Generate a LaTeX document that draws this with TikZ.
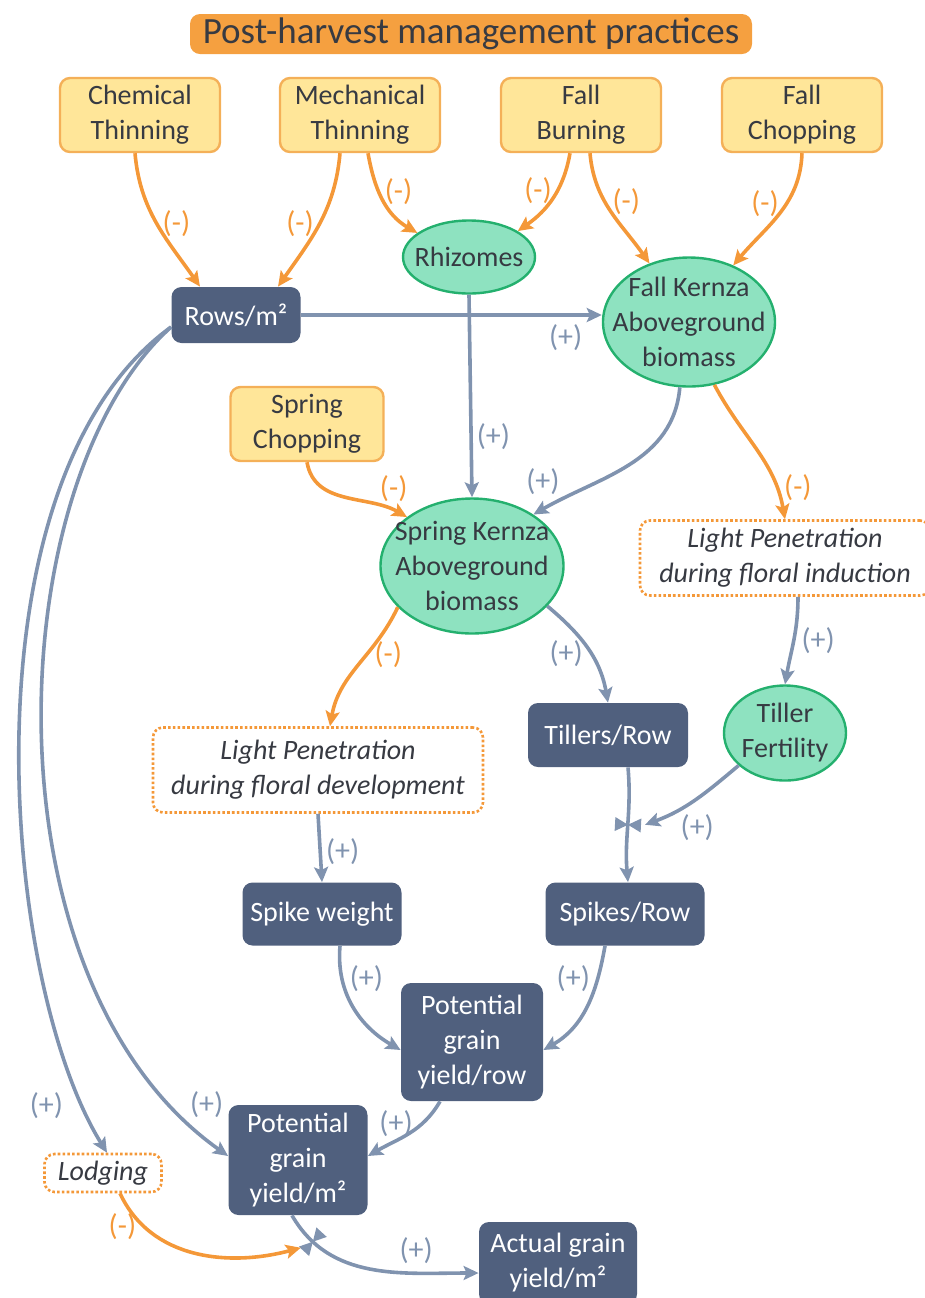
\documentclass[tikz,border=0pt]{standalone}
\usepackage{fontspec}
\setmainfont{Carlito}
\usetikzlibrary{shapes.geometric,arrows.meta}

% ---- Colors ----
\definecolor{inkDark}{RGB}{55,58,66}
\definecolor{titleFill}{RGB}{245,160,64}
\definecolor{practiceFill}{RGB}{255,230,153}
\definecolor{practiceLine}{RGB}{244,176,88}
\definecolor{stateFill}{RGB}{142,226,192}
\definecolor{stateLine}{RGB}{36,176,110}
\definecolor{measureFill}{RGB}{80,96,126}
\definecolor{plusCol}{RGB}{128,147,175}
\definecolor{minusCol}{RGB}{244,152,56}

\tikzset{
	practice/.style={draw=practiceLine, fill=practiceFill, line width=1.2pt, rounded corners=5pt,
		align=center, text=inkDark, inner sep=0pt, minimum width=80pt, minimum height=37pt},
	state/.style={ellipse, draw=stateLine, fill=stateFill, line width=1.2pt,
		align=center, text=inkDark, inner sep=-10pt},
	measure/.style={fill=measureFill, rounded corners=5pt, align=center, text=white, inner sep=0pt},
	light/.style={draw=minusCol, dash pattern=on 1.3pt off 1.1pt, line width=1.3pt, rounded corners=5pt,
		fill=white, align=center, text=inkDark, inner sep=0pt, font=\fontsize{14}{17.5}\selectfont\itshape},
	posarrow/.style={draw=plusCol, line width=1.8pt, -{Stealth[length=7.5pt, width=7pt, inset=1.5pt]}},
	negarrow/.style={draw=minusCol, line width=1.8pt, -{Stealth[length=7.5pt, width=7pt, inset=1.5pt]}},
	poslabel/.style={text=plusCol, inner sep=1pt, font=\fontsize{15}{17}\selectfont},
	neglabel/.style={text=minusCol, inner sep=1pt, font=\fontsize{15}{17}\selectfont},
	interact/.pic={
		\fill[plusCol] (0,0) -- (-3.5pt,6.5pt) -- (3.5pt,6.5pt) -- cycle
			(0,0) -- (-3.5pt,-6.5pt) -- (3.5pt,-6.5pt) -- cycle;
	}
}

\begin{document}
\begin{tikzpicture}[x=0.5pt, y=-0.5pt, font=\fontsize{14}{17.5}\selectfont]
	\useasboundingbox (0,0) rectangle (925,1298);
	
	% ---- Title ----
	\node[fill=titleFill, rounded corners=5pt, text=inkDark, minimum width=281pt, minimum height=20pt,
		inner sep=0pt, font=\fontsize{18.5}{22}\selectfont] (title) at (471,34) {Post-harvest management practices};
	
	% ---- Practices ----
	\node[practice] (chem) at (140,115) {Chemical\\Thinning};
	\node[practice] (mech) at (360,115) {Mechanical\\Thinning};
	\node[practice] (burn) at (581,115) {Fall\\Burning};
	\node[practice] (fchop) at (802,115) {Fall\\Chopping};
	\node[practice, minimum width=76.5pt] (schop) at (307,424) {Spring\\Chopping};
	
	% ---- Plant states ----
	\node[state, minimum width=66pt, minimum height=36.5pt] (rhiz) at (469,257) {Rhizomes};
	\node[state, minimum width=86pt, minimum height=64.5pt] (fallk) at (689,322) {Fall Kernza\\Aboveground\\biomass};
	\node[state, minimum width=91.5pt, minimum height=67.5pt] (springk) at (472,566) {Spring Kernza\\Aboveground\\biomass};
	\node[state, minimum width=61pt, minimum height=47.5pt] (tfert) at (785,733) {Tiller\\Fertility};
	
	% ---- Light and lodging ----
	\node[light, minimum width=145pt, minimum height=37.5pt] (lpind) at (785,558) {Light Penetration\\during floral induction};
	\node[light, minimum width=165pt, minimum height=42.5pt] (lpdev) at (318,770) {Light Penetration\\during floral development};
	\node[light, minimum width=58.5pt, minimum height=19pt] (lodging) at (103,1173) {Lodging};
	
	% ---- Yield components ----
	\node[measure, minimum width=64.5pt, minimum height=28pt] (rows) at (236,315) {Rows/m²};
	\node[measure, minimum width=80pt, minimum height=32pt] (tillers) at (608,735) {Tillers/Row};
	\node[measure, minimum width=79.5pt, minimum height=31.5pt] (spikew) at (322,914) {Spike weight};
	\node[measure, minimum width=79.5pt, minimum height=31.5pt] (spikes) at (625,914) {Spikes/Row};
	\node[measure, minimum width=71pt, minimum height=59pt] (potrow) at (472,1042) {Potential\\grain\\yield/row};
	\node[measure, minimum width=69.5pt, minimum height=55pt] (potm) at (298,1160) {Potential\\grain\\yield/m²};
	\node[measure, minimum width=79pt, minimum height=41pt] (actual) at (558,1263) {Actual grain\\yield/m²};
	
	% ---- Practice effects ----
	\draw[negarrow] ([xshift=-2.5pt]chem.south) to[out=-85, in=125]
		node[neglabel, pos=0.5, right=1pt] {(-)} ([xshift=-18pt]rows.north);
	\draw[negarrow] ([xshift=-10pt]mech.south) to[out=-95, in=55]
		node[neglabel, pos=0.5, left=1pt] {(-)} ([xshift=21pt]rows.north);
	\draw[negarrow] ([xshift=4pt]mech.south) to[out=-80, in=150]
		node[neglabel, pos=0.4, right=1pt] {(-)} (rhiz.155);
	\draw[negarrow] ([xshift=-5.5pt]burn.south) to[out=-100, in=35]
		node[neglabel, pos=0.4, left=1pt] {(-)} (rhiz.28);
	\draw[negarrow] ([xshift=4.5pt]burn.south) to[out=-85, in=125]
		node[neglabel, pos=0.4, right=2pt] {(-)} (fallk.124);
	\draw[negarrow] (fchop.south) to[out=-92, in=50]
		node[neglabel, pos=0.4, left=2pt] {(-)} (fallk.52);
	\draw[negarrow] (schop.south) to[out=-80, in=150]
		node[neglabel, pos=0.75, above right=0pt] {(-)} (springk.143);
	
	% ---- Biomass ----
	\draw[posarrow] (rows.east) -- node[poslabel, pos=0.88, below=3pt] {(+)} (rows.east -| fallk.west);
	\draw[posarrow] (rhiz.south) -- node[poslabel, pos=0.7, right=1pt] {(+)} (springk.north);
	\draw[posarrow] (fallk.262) to[out=-95, in=30]
		node[poslabel, pos=0.85, above left=0pt] {(+)} (springk.40);
	\draw[negarrow] (fallk.292) to[out=-62, in=100]
		node[neglabel, pos=0.8, right=2pt] {(-)} (lpind.north);
	\draw[posarrow] ([xshift=6.5pt]lpind.south) to[out=-90, in=80]
		node[poslabel, pos=0.5, right=2pt] {(+)} (tfert.north);
	\draw[posarrow] (springk.-28) to[out=-40, in=100]
		node[poslabel, pos=0.55, left=2pt] {(+)} (tillers.north);
	\draw[negarrow] (springk.209) to[out=-115, in=80]
		node[neglabel, pos=0.4, right=2pt] {(-)} ([xshift=6pt]lpdev.north);
	
	% ---- Tillers and spikes ----
	\draw[posarrow] ([xshift=10pt]tillers.south) to[out=-85, in=95]
		pic[pos=0.5, sloped] {interact} coordinate[pos=0.5] (bt1) ([xshift=1.5pt]spikes.north);
	\draw[posarrow] (tfert.215) to[out=-140, in=20]
		node[poslabel, pos=0.7, below right=0pt] {(+)} ([xshift=8.5pt]bt1);
	\draw[posarrow] (lpdev.south) -- node[poslabel, pos=0.55, right=1pt] {(+)} (spikew.north);
	
	% ---- Grain yield ----
	\draw[posarrow] ([xshift=9pt]spikew.south) to[out=-95, in=150]
		node[poslabel, pos=0.25, right=2pt] {(+)} ([yshift=-4pt]potrow.west);
	\draw[posarrow] ([xshift=-10pt]spikes.south) to[out=-100, in=30]
		node[poslabel, pos=0.25, left=2pt] {(+)} ([yshift=-4pt]potrow.east);
	\draw[posarrow] ([xshift=-16pt]potrow.south) to[out=-120, in=30]
		node[poslabel, pos=0.3, left=3pt] {(+)} ([yshift=2pt]potm.east);
	\draw[posarrow] ([yshift=-6pt]rows.west) .. controls (0,480) and (-20,980) ..
		node[poslabel, pos=0.94, above right=0pt] {(+)} ([yshift=2pt]potm.west);
	\draw[posarrow] ([yshift=-6pt]rows.west) .. controls (-40,480) and (0,980) ..
		node[poslabel, pos=0.92, left=8pt] {(+)} ([xshift=2pt]lodging.north);
	\draw[posarrow] ([xshift=-3pt]potm.south) to[out=-60, in=180]
		pic[pos=0.16, sloped] {interact} coordinate[pos=0.16] (bt2)
		node[poslabel, pos=0.72, above=3pt] {(+)} ([yshift=-5pt]actual.west);
	\draw[negarrow] ([xshift=8.5pt]lodging.south) to[out=-65, in=195]
		node[neglabel, pos=0.2, left=2pt] {(-)} ([shift={(-6pt,-3pt)}]bt2);
	
\end{tikzpicture}
\end{document}
